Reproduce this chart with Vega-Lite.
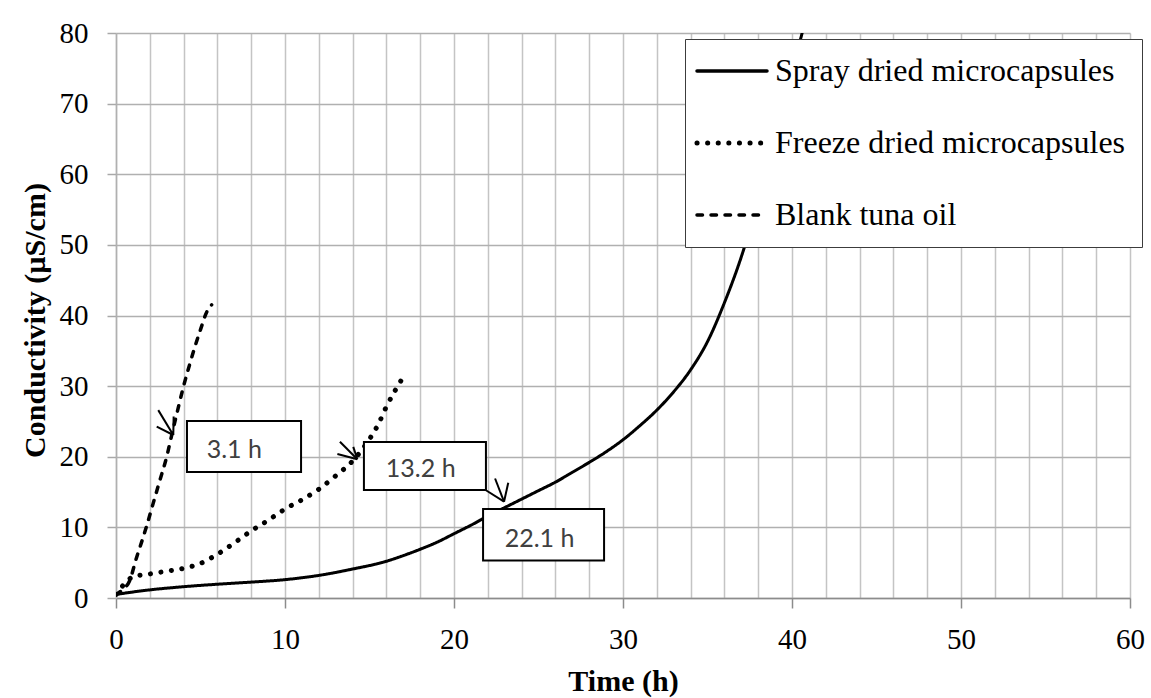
{
  "$schema": "https://vega.github.io/schema/vega-lite/v6.json",
  "width": 1014,
  "height": 565,
  "autosize": {"type": "none"},
  "padding": {"left": 116, "top": 33, "right": 21, "bottom": 100},
  "background": "white",
  "config": {
    "view": {"stroke": null},
    "font": "Liberation Serif",
    "axis": {"labelFont": "Liberation Serif", "titleFont": "Liberation Serif", "labelColor": "black", "titleColor": "black"},
    "legend": {"symbolSize": 4900, "symbolStrokeWidth": 3.5, "labelFont": "Liberation Serif"}
  },
  "datasets": {
    "curves": [
      {"series": "Spray dried microcapsules", "t": 0, "c": 0.5},
      {"series": "Spray dried microcapsules", "t": 1, "c": 0.85},
      {"series": "Spray dried microcapsules", "t": 2, "c": 1.15},
      {"series": "Spray dried microcapsules", "t": 4, "c": 1.6},
      {"series": "Spray dried microcapsules", "t": 6, "c": 1.95},
      {"series": "Spray dried microcapsules", "t": 8, "c": 2.25},
      {"series": "Spray dried microcapsules", "t": 10, "c": 2.6},
      {"series": "Spray dried microcapsules", "t": 12, "c": 3.2},
      {"series": "Spray dried microcapsules", "t": 14, "c": 4.1},
      {"series": "Spray dried microcapsules", "t": 16, "c": 5.2},
      {"series": "Spray dried microcapsules", "t": 17, "c": 6.0},
      {"series": "Spray dried microcapsules", "t": 18, "c": 6.9},
      {"series": "Spray dried microcapsules", "t": 19, "c": 7.9},
      {"series": "Spray dried microcapsules", "t": 20, "c": 9.1},
      {"series": "Spray dried microcapsules", "t": 21, "c": 10.3},
      {"series": "Spray dried microcapsules", "t": 22, "c": 11.6},
      {"series": "Spray dried microcapsules", "t": 23, "c": 12.8},
      {"series": "Spray dried microcapsules", "t": 24, "c": 14.0},
      {"series": "Spray dried microcapsules", "t": 25, "c": 15.2},
      {"series": "Spray dried microcapsules", "t": 26, "c": 16.4},
      {"series": "Spray dried microcapsules", "t": 27, "c": 17.8},
      {"series": "Spray dried microcapsules", "t": 28, "c": 19.2},
      {"series": "Spray dried microcapsules", "t": 29, "c": 20.7},
      {"series": "Spray dried microcapsules", "t": 30, "c": 22.4},
      {"series": "Spray dried microcapsules", "t": 31, "c": 24.4},
      {"series": "Spray dried microcapsules", "t": 32, "c": 26.6},
      {"series": "Spray dried microcapsules", "t": 33, "c": 29.2},
      {"series": "Spray dried microcapsules", "t": 34, "c": 32.3},
      {"series": "Spray dried microcapsules", "t": 35, "c": 36.3},
      {"series": "Spray dried microcapsules", "t": 36, "c": 41.8},
      {"series": "Spray dried microcapsules", "t": 37, "c": 48.3},
      {"series": "Spray dried microcapsules", "t": 38, "c": 56.3},
      {"series": "Spray dried microcapsules", "t": 39, "c": 65.2},
      {"series": "Spray dried microcapsules", "t": 40, "c": 74.5},
      {"series": "Spray dried microcapsules", "t": 40.6, "c": 80},
      {"series": "Freeze dried microcapsules", "t": 0, "c": 0.5},
      {"series": "Freeze dried microcapsules", "t": 0.5, "c": 2.0},
      {"series": "Freeze dried microcapsules", "t": 1, "c": 3.0},
      {"series": "Freeze dried microcapsules", "t": 2, "c": 3.4},
      {"series": "Freeze dried microcapsules", "t": 3, "c": 3.8},
      {"series": "Freeze dried microcapsules", "t": 4, "c": 4.2},
      {"series": "Freeze dried microcapsules", "t": 5, "c": 4.9},
      {"series": "Freeze dried microcapsules", "t": 6, "c": 6.2},
      {"series": "Freeze dried microcapsules", "t": 7, "c": 7.8},
      {"series": "Freeze dried microcapsules", "t": 8, "c": 9.5},
      {"series": "Freeze dried microcapsules", "t": 9, "c": 11.0},
      {"series": "Freeze dried microcapsules", "t": 10, "c": 12.6},
      {"series": "Freeze dried microcapsules", "t": 11, "c": 13.9},
      {"series": "Freeze dried microcapsules", "t": 12, "c": 15.4},
      {"series": "Freeze dried microcapsules", "t": 13, "c": 17.3},
      {"series": "Freeze dried microcapsules", "t": 14, "c": 19.4},
      {"series": "Freeze dried microcapsules", "t": 15, "c": 22.5},
      {"series": "Freeze dried microcapsules", "t": 15.5, "c": 24.5},
      {"series": "Freeze dried microcapsules", "t": 16, "c": 27.1},
      {"series": "Freeze dried microcapsules", "t": 16.5, "c": 29.3},
      {"series": "Freeze dried microcapsules", "t": 17, "c": 31.3},
      {"series": "Blank tuna oil", "t": 0, "c": 0.5},
      {"series": "Blank tuna oil", "t": 0.4, "c": 1.2},
      {"series": "Blank tuna oil", "t": 0.8, "c": 2.4},
      {"series": "Blank tuna oil", "t": 1.2, "c": 5.6},
      {"series": "Blank tuna oil", "t": 1.5, "c": 7.8},
      {"series": "Blank tuna oil", "t": 1.8, "c": 10.1},
      {"series": "Blank tuna oil", "t": 2.2, "c": 13.4},
      {"series": "Blank tuna oil", "t": 2.6, "c": 16.7},
      {"series": "Blank tuna oil", "t": 3.0, "c": 20.0},
      {"series": "Blank tuna oil", "t": 3.3, "c": 23.1},
      {"series": "Blank tuna oil", "t": 3.65, "c": 26.6},
      {"series": "Blank tuna oil", "t": 4.0, "c": 30.0},
      {"series": "Blank tuna oil", "t": 4.35, "c": 33.0},
      {"series": "Blank tuna oil", "t": 4.7, "c": 35.8},
      {"series": "Blank tuna oil", "t": 5.0, "c": 38.0},
      {"series": "Blank tuna oil", "t": 5.37, "c": 40.5},
      {"series": "Blank tuna oil", "t": 5.66, "c": 41.5}
    ],
    "boxes": [
      {"label": "3.1 h", "x0": 4.2, "x1": 10.95, "y0": 17.85, "y1": 25.07, "tx": 7.0, "ty": 20.9},
      {"label": "13.2 h", "x0": 14.67, "x1": 21.89, "y0": 15.3, "y1": 22.1, "tx": 18.03, "ty": 18.3},
      {"label": "22.1 h", "x0": 21.72, "x1": 28.88, "y0": 5.3, "y1": 12.6, "tx": 25.06, "ty": 8.4}
    ],
    "arrows": [
      {"xa": 2.5, "ya": 26.6, "xb": 3.39, "yb": 23.08},
      {"xa": 2.41, "ya": 24.26, "xb": 3.39, "yb": 23.08},
      {"xa": 3.41, "ya": 25.7, "xb": 3.39, "yb": 23.08},
      {"xa": 13.25, "ya": 22.13, "xb": 14.28, "yb": 19.64},
      {"xa": 13.1, "ya": 20.4, "xb": 14.28, "yb": 19.64},
      {"xa": 14.04, "ya": 21.4, "xb": 14.28, "yb": 19.64},
      {"xa": 21.89, "ya": 15.26, "xb": 22.96, "yb": 13.64},
      {"xa": 22.43, "ya": 16.92, "xb": 22.96, "yb": 13.64},
      {"xa": 23.21, "ya": 16.33, "xb": 22.96, "yb": 13.64}
    ]
  },
  "layer": [
    {
      "data": {"name": "curves"},
      "mark": {"type": "line", "interpolate": "monotone", "strokeCap": "round", "color": "black", "clip": true},
      "encoding": {
        "x": {
          "field": "t",
          "type": "quantitative",
          "scale": {"domain": [0, 60], "nice": false, "zero": false},
          "axis": {
            "title": "Time (h)",
            "titleFontSize": 30,
            "titleFontWeight": "bold",
            "titleX": 507,
            "titleY": 92,
            "titleAlign": "center",
            "titleBaseline": "alphabetic",
            "values": [0, 2, 4, 6, 8, 10, 12, 14, 16, 18, 20, 22, 24, 26, 28, 30, 32, 34, 36, 38, 40, 42, 44, 46, 48, 50, 52, 54, 56, 58, 60],
            "tickCount": 100,
            "format": "d",
            "labelExpr": "datum.value % 10 === 0 ? datum.label : ''",
            "labelFontSize": 29,
            "labelPadding": 17,
            "labelFlush": false,
            "labelOverlap": false,
            "tickSize": 10,
            "tickWidth": 1.5,
            "tickColor": "#8c8c8c",
            "tickOpacity": {"condition": {"test": "datum.value % 10 === 0", "value": 1}, "value": 0},
            "grid": true,
            "gridColor": "#c4c4c4",
            "gridWidth": 1.5,
            "domainColor": "#8c8c8c",
            "domainWidth": 1.5
          }
        },
        "y": {
          "field": "c",
          "type": "quantitative",
          "scale": {"domain": [0, 80], "nice": false, "zero": false},
          "axis": {
            "title": "Conductivity (µS/cm)",
            "titleFontSize": 30,
            "titleFontWeight": "bold",
            "titleAngle": -90,
            "titleX": -72,
            "titleY": 287,
            "titleAlign": "center",
            "titleBaseline": "alphabetic",
            "values": [0, 10, 20, 30, 40, 50, 60, 70, 80],
            "tickCount": 100,
            "format": "d",
            "labelFontSize": 29,
            "labelPadding": 19,
            "labelFlush": false,
            "tickSize": 9,
            "tickWidth": 1.5,
            "tickColor": "#a8a8a8",
            "grid": true,
            "gridColor": "#b0b0b0",
            "gridWidth": 1.5,
            "domainColor": "#b0b0b0",
            "domainWidth": 1.5
          }
        },
        "strokeDash": {
          "field": "series",
          "type": "nominal",
          "scale": {
            "domain": ["Spray dried microcapsules", "Freeze dried microcapsules", "Blank tuna oil"],
            "range": [[1, 0], [0.1, 10.5], [5.5, 8.5]]
          },
          "legend": {
            "title": null,
            "orient": "none",
            "legendX": 569,
            "legendY": 6,
            "fillColor": "white",
            "strokeColor": "#3c3c3c",
            "padding": 16,
            "symbolOffset": 15,
            "symbolType": "stroke",
            "symbolSize": 4900,
            "symbolStrokeWidth": 3.5,
            "symbolStrokeColor": "black",
            "labelFont": "Liberation Serif",
            "labelFontSize": 32,
            "labelColor": "black",
            "labelOffset": 27,
            "labelLimit": 600,
            "rowPadding": 40,
            "encode": {
              "labels": {
                "update": {
                  "font": {"value": "Liberation Serif"}
                }
              },
              "symbols": {
                "update": {
                  "strokeCap": {"value": "round"},
                  "strokeWidth": {"signal": "datum.value === 'Freeze dried microcapsules' ? 5 : 3.5"}
                }
              }
            }
          }
        },
        "strokeWidth": {
          "condition": [
            {"test": "datum.series === 'Freeze dried microcapsules'", "value": 5},
            {"test": "datum.series === 'Blank tuna oil'", "value": 3.5}
          ],
          "value": 3
        }
      }
    },
    {
      "data": {"name": "boxes"},
      "mark": {"type": "rect", "fill": "white", "stroke": "black", "strokeWidth": 2},
      "encoding": {
        "x": {"field": "x0", "type": "quantitative"},
        "x2": {"field": "x1"},
        "y": {"field": "y0", "type": "quantitative"},
        "y2": {"field": "y1"}
      }
    },
    {
      "data": {"name": "boxes"},
      "mark": {"type": "text", "font": "Lato", "fontSize": 25, "color": "#404040", "align": "center", "baseline": "middle"},
      "encoding": {
        "x": {"field": "tx", "type": "quantitative"},
        "y": {"field": "ty", "type": "quantitative"},
        "text": {"field": "label"}
      }
    },
    {
      "data": {"name": "arrows"},
      "mark": {"type": "rule", "color": "black", "strokeWidth": 2},
      "encoding": {
        "x": {"field": "xa", "type": "quantitative"},
        "y": {"field": "ya", "type": "quantitative"},
        "x2": {"field": "xb"},
        "y2": {"field": "yb"}
      }
    }
  ]
}
